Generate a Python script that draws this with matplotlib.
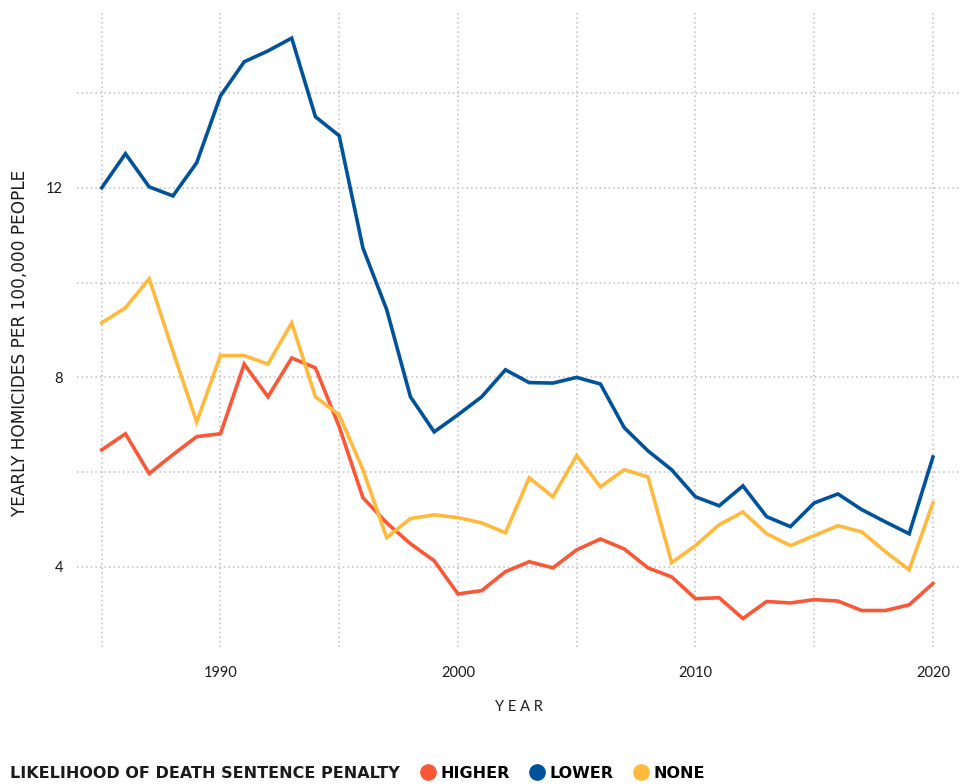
import matplotlib
matplotlib.use("Agg")
import matplotlib.pyplot as plt
from matplotlib.lines import Line2D

years = list(range(1985, 2021))
higher = [6.47, 6.81, 5.97, 6.37, 6.75, 6.81, 8.28, 7.59, 8.41, 8.20,
          6.96, 5.46, 4.93, 4.49, 4.13, 3.43, 3.50, 3.90, 4.11, 3.98,
          4.36, 4.59, 4.38, 3.98, 3.79, 3.33, 3.35, 2.91, 3.27, 3.24,
          3.31, 3.28, 3.08, 3.08, 3.20, 3.65]
lower = [12.0, 12.72, 12.02, 11.83, 12.53, 13.94, 14.66, 14.89, 15.16, 13.50,
         13.10, 10.73, 9.43, 7.59, 6.85, 7.21, 7.59, 8.16, 7.89, 7.88,
         8.00, 7.86, 6.94, 6.45, 6.05, 5.48, 5.29, 5.71, 5.06, 4.85,
         5.35, 5.54, 5.21, 4.95, 4.70, 6.32]
none = [9.15, 9.47, 10.08, 8.55, 7.06, 8.46, 8.46, 8.28, 9.15, 7.59,
        7.21, 6.05, 4.62, 5.02, 5.10, 5.04, 4.93, 4.72, 5.88, 5.48,
        6.35, 5.69, 6.05, 5.90, 4.09, 4.45, 4.89, 5.16, 4.70, 4.45,
        4.66, 4.87, 4.74, 4.32, 3.94, 5.35]

series_names = ["HIGHER", "LOWER", "NONE"]
colors = ["#FA5737", "#00529A", "#FFB93D"]

y_ticks = [4, 8, 12]
y_grid = [4, 6, 8, 10, 12, 14]
x_ticks = [1990, 2000, 2010, 2020]
x_grid = [1985, 1990, 1995, 2000, 2005, 2010, 2015, 2020]

plt.rcParams['font.family'] = ['Lato', 'DejaVu Sans']

fig = plt.figure(figsize=(9.63, 7.84), dpi=100)
ax = fig.add_axes([77/963, 137/784, 883/963, 634/784])

grid_color = "#BDBDBD"
for gx in x_grid:
    ax.axvline(gx, color=grid_color, lw=1.1, ls=(0, (1, 2)), zorder=0)
for gy in y_grid:
    ax.axhline(gy, color=grid_color, lw=1.1, ls=(0, (1, 2)), zorder=0)

for vals, c in zip([higher, lower, none], colors):
    ax.plot(years, vals, color=c, lw=2.6, solid_joinstyle='miter', zorder=3)

ax.set_xlim(1983.96, 2021.14)
ax.set_ylim(2.31, 15.69)
ax.set_xticks(x_ticks)
ax.set_yticks(y_ticks)
ax.set_xticklabels([str(t) for t in x_ticks])
ax.set_yticklabels([str(t) for t in y_ticks])
ax.tick_params(length=0, labelsize=10.5, colors="#1a1a1a")
ax.tick_params(axis='y', pad=10)
ax.tick_params(axis='x', pad=14)
for s in ax.spines.values():
    s.set_visible(False)

ax.set_xlabel("Y E A R", fontsize=10.5, color="#1a1a1a", labelpad=14)
fig.text(20/963, 1 - 343/784, "YEARLY HOMICIDES PER 100,000 PEOPLE", rotation=90,
         ha='center', va='center', fontsize=12.2, color="#1a1a1a",
         family=['DejaVu Sans'])

fig.text(10/963, 1 - 773/784, "LIKELIHOOD OF DEATH SENTENCE PENALTY",
         fontsize=11.5, fontweight='bold', color="#1a1a1a", va='center', ha='left',
         family=['DejaVu Sans'])

handles = [Line2D([], [], marker='o', ls='none', markersize=11, color=c) for c in colors]
leg = fig.legend(handles, series_names, ncol=3, loc='center left',
                 bbox_to_anchor=(402/963, 1 - 773/784), frameon=False,
                 handletextpad=0.1, columnspacing=1.0, handlelength=1.4,
                 prop={'weight': 'bold', 'size': 11.5, 'family': 'DejaVu Sans'})

fig.savefig("out.png", dpi=100)
